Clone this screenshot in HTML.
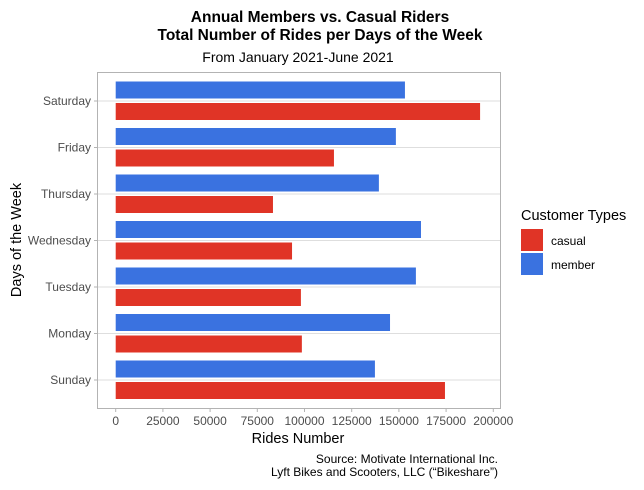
<!DOCTYPE html>
<html><head><meta charset="utf-8"><style>
body{margin:0;background:#fff;font-family:"Liberation Sans",sans-serif}
</style></head><body>
<svg id="chart" width="644" height="485" xmlns="http://www.w3.org/2000/svg" font-family="Liberation Sans, sans-serif">
<rect width="644" height="485" fill="#fff"/>
<text x="320" y="22" text-anchor="middle" font-size="15.5" font-weight="bold">Annual Members vs. Casual Riders</text>
<text x="320" y="40" text-anchor="middle" font-size="15.5" font-weight="bold">Total Number of Rides per Days of the Week</text>
<text x="298" y="62" text-anchor="middle" font-size="14">From January 2021-June 2021</text>
<g id="grid"></g>
<g id="bars"></g>
<rect x="97.5" y="72.5" width="403" height="336" fill="none" stroke="#b3b3b3"/>
<g id="axes" font-size="12" fill="#4d4d4d"></g>
<text x="298" y="443" text-anchor="middle" font-size="14.5">Rides Number</text>
<text transform="translate(21,240) rotate(-90)" text-anchor="middle" font-size="14.5">Days of the Week</text>
<g>
<text x="521" y="220" font-size="14.5">Customer Types</text>
<rect x="521" y="229" width="22" height="22" fill="#e03426"/>
<text x="551" y="245" font-size="12">casual</text>
<rect x="521" y="253" width="22" height="22" fill="#3a72e0"/>
<text x="551" y="269" font-size="12">member</text>
</g>
<text x="498" y="463" text-anchor="end" font-size="12">Source: Motivate International Inc.</text>
<text x="498" y="476" text-anchor="end" font-size="12">Lyft Bikes and Scooters, LLC (“Bikeshare”)</text>
</svg>
<script>
const days = ["Sunday","Monday","Tuesday","Wednesday","Thursday","Friday","Saturday"];
const memberRides = [137300,145300,159000,161700,139400,148400,153200];
const casualRides = [174400,98600,98100,93400,83300,115600,193000];
const xTicks = [0,25000,50000,75000,100000,125000,150000,175000,200000];
const NS="http://www.w3.org/2000/svg";
const xS = v => 115.7 + v*0.001888;
const yS = i => 380 - i*46.5;
function mk(t,a,p){const e=document.createElementNS(NS,t);for(const k in a)e.setAttribute(k,a[k]);p.appendChild(e);return e;}
const grid=document.getElementById('grid'),bars=document.getElementById('bars'),axes=document.getElementById('axes');
days.forEach((d,i)=>{
  const y=yS(i);
  const g=mk('line',{x1:98,x2:500,y1:y,y2:y,stroke:'#dedede','stroke-width':1},grid);
  
  
  const m=mk('rect',{x:xS(0),y:y-19.5,width:xS(memberRides[i])-xS(0),height:17,fill:'#3a72e0'},bars);
  
  
  const c=mk('rect',{x:xS(0),y:y+2,width:xS(casualRides[i])-xS(0),height:17,fill:'#e03426'},bars);
  
  
  mk('line',{x1:94,x2:97,y1:y,y2:y,stroke:'#b3b3b3'},axes);
  const t=mk('text',{x:91,y:y+4,'text-anchor':'end'},axes);t.textContent=d;
  
  
});
xTicks.forEach(v=>{
  const x=xS(v);
  mk('line',{x1:x,x2:x,y1:409,y2:412,stroke:'#b3b3b3'},axes);
  const t=mk('text',{x:x,y:425,'text-anchor':'middle'},axes);t.textContent=v;
  
  
});
</script>
</body></html>
